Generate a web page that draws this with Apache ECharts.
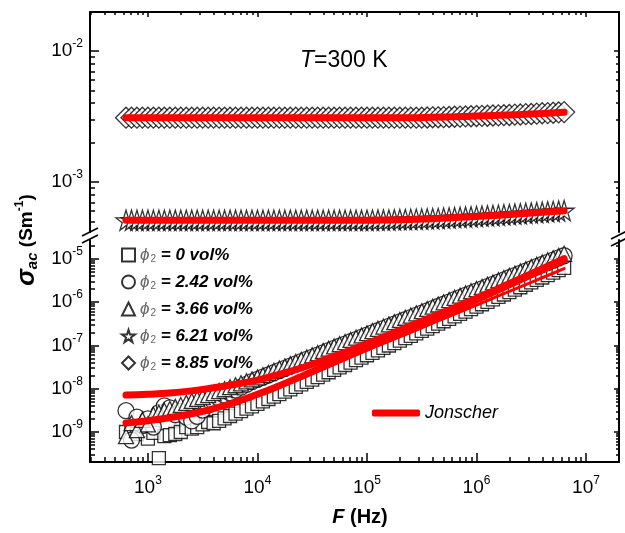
<!DOCTYPE html>
<html>
<head>
<meta charset="utf-8">
<script src="https://cdn.jsdelivr.net/npm/echarts@6/dist/echarts.min.js"></script>
<style>
html, body { margin: 0; padding: 0; background: #fff; }
#chart { width: 625px; height: 533px; }
</style>
</head>
<body>
<div id="chart"></div>
<script>
// frequency (Hz) of the measured points
var freq = [631, 708, 794, 891, 1000, 1122, 1259, 1413, 1585, 1778, 1995, 2239, 2512, 2818, 3162, 3548, 3981, 4467, 5012, 5623, 6310, 7079, 7943, 8913,
    10000, 11220, 12589, 14125, 15849, 17783, 19953, 22387, 25119, 28184, 31623, 35481, 39811, 44668, 50119, 56234, 63096, 70795, 79433, 89125,
    1.0e5, 1.122e5, 1.259e5, 1.413e5, 1.585e5, 1.778e5, 1.995e5, 2.239e5, 2.512e5, 2.818e5, 3.162e5, 3.548e5, 3.981e5, 4.467e5, 5.012e5, 5.623e5, 6.310e5, 7.079e5, 7.943e5, 8.913e5,
    1.0e6, 1.122e6, 1.259e6, 1.413e6, 1.585e6, 1.778e6, 1.995e6, 2.239e6, 2.512e6, 2.818e6, 3.162e6, 3.548e6, 3.981e6, 4.467e6, 5.012e6, 5.623e6, 6.310e6];

// sigma_ac (S/m) for each filler content
var sigma0 = [1.0e-9, 1.3e-9, 9.0e-10, 1.1e-9, 7.0e-10, 9.5e-10, 2.5e-10, 8.0e-10, 8.5e-10, 9.0e-10,
    1.0e-9, 1.3e-9, 1.2e-9, 1.3e-9, 1.5e-9, 1.7e-9, 1.59e-9, 1.81e-9, 2.06e-9, 2.34e-9,
    2.66e-9, 3.03e-9, 3.45e-9, 3.92e-9, 4.46e-9, 5.08e-9, 5.78e-9, 6.57e-9, 7.48e-9, 8.51e-9,
    9.68e-9, 1.10e-8, 1.25e-8, 1.43e-8, 1.62e-8, 1.85e-8, 2.10e-8, 2.39e-8, 2.72e-8, 3.10e-8,
    3.52e-8, 4.01e-8, 4.56e-8, 5.19e-8, 5.91e-8, 6.72e-8, 7.65e-8, 8.71e-8, 9.91e-8, 1.13e-7,
    1.28e-7, 1.46e-7, 1.66e-7, 1.89e-7, 2.15e-7, 2.44e-7, 2.78e-7, 3.16e-7, 3.60e-7, 4.09e-7,
    4.66e-7, 5.30e-7, 6.03e-7, 6.86e-7, 7.80e-7, 8.87e-7, 1.01e-6, 1.15e-6, 1.31e-6, 1.49e-6,
    1.69e-6, 1.93e-6, 2.19e-6, 2.50e-6, 2.84e-6, 3.23e-6, 3.68e-6, 4.19e-6, 4.76e-6, 5.42e-6,
    6.17e-6];
var sigma242 = [3.1e-9, 6.5e-10, 2.2e-9, 1.4e-9, 2.0e-9, 1.3e-9, 2.8e-9, 4.0e-9, 3.6e-9, 2.5e-9,
    3.0e-9, 2.2e-9, 1.8e-9, 2.3e-9, 3.2e-9, 4.2e-9, 5.0e-9, 6.0e-9, 7.0e-9, 8.0e-9,
    9.3e-9, 1.08e-8, 1.25e-8, 1.45e-8, 1.64e-8, 1.85e-8, 2.07e-8, 2.33e-8, 2.62e-8, 2.94e-8,
    3.31e-8, 3.73e-8, 4.19e-8, 4.72e-8, 5.30e-8, 5.96e-8, 6.71e-8, 7.54e-8, 8.48e-8, 9.54e-8,
    1.07e-7, 1.21e-7, 1.36e-7, 1.52e-7, 1.72e-7, 1.93e-7, 2.17e-7, 2.44e-7, 2.75e-7, 3.09e-7,
    3.47e-7, 3.90e-7, 4.38e-7, 4.93e-7, 5.55e-7, 6.24e-7, 7.02e-7, 7.89e-7, 8.87e-7, 9.99e-7,
    1.13e-6, 1.26e-6, 1.42e-6, 1.59e-6, 1.79e-6, 2.02e-6, 2.27e-6, 2.55e-6, 2.87e-6, 3.22e-6,
    3.63e-6, 4.08e-6, 4.59e-6, 5.16e-6, 5.81e-6, 6.53e-6, 7.34e-6, 8.25e-6, 9.27e-6, 1.04e-5,
    1.17e-5];
var sigma366 = [8.0e-10, 1.6e-9, 1.1e-9, 1.9e-9, 1.5e-9, 2.5e-9, 2.8e-9, 3.1e-9, 3.4e-9, 3.8e-9,
    4.2e-9, 4.7e-9, 5.2e-9, 5.8e-9, 6.4e-9, 7.1e-9, 7.9e-9, 8.8e-9, 9.7e-9, 1.08e-8,
    1.20e-8, 1.33e-8, 1.48e-8, 1.64e-8, 1.82e-8, 2.05e-8, 2.30e-8, 2.59e-8, 2.91e-8, 3.27e-8,
    3.68e-8, 4.14e-8, 4.66e-8, 5.24e-8, 5.89e-8, 6.62e-8, 7.45e-8, 8.38e-8, 9.42e-8, 1.06e-7,
    1.19e-7, 1.34e-7, 1.51e-7, 1.69e-7, 1.91e-7, 2.14e-7, 2.41e-7, 2.71e-7, 3.05e-7, 3.43e-7,
    3.85e-7, 4.33e-7, 4.87e-7, 5.48e-7, 6.17e-7, 6.93e-7, 7.80e-7, 8.77e-7, 9.86e-7, 1.11e-6,
    1.25e-6, 1.40e-6, 1.58e-6, 1.77e-6, 1.99e-6, 2.24e-6, 2.52e-6, 2.83e-6, 3.19e-6, 3.58e-6,
    4.03e-6, 4.53e-6, 5.10e-6, 5.73e-6, 6.45e-6, 7.25e-6, 8.15e-6, 9.17e-6, 1.03e-5, 1.16e-5,
    1.30e-5];
var sigma621 = [5.10e-4, 5.10e-4, 5.10e-4, 5.10e-4, 5.10e-4, 5.10e-4, 5.10e-4, 5.10e-4, 5.10e-4, 5.10e-4,
    5.10e-4, 5.10e-4, 5.10e-4, 5.10e-4, 5.10e-4, 5.10e-4, 5.10e-4, 5.10e-4, 5.10e-4, 5.10e-4,
    5.10e-4, 5.10e-4, 5.10e-4, 5.10e-4, 5.10e-4, 5.10e-4, 5.10e-4, 5.10e-4, 5.10e-4, 5.10e-4,
    5.10e-4, 5.10e-4, 5.10e-4, 5.10e-4, 5.10e-4, 5.10e-4, 5.10e-4, 5.10e-4, 5.10e-4, 5.10e-4,
    5.10e-4, 5.10e-4, 5.10e-4, 5.10e-4, 5.10e-4, 5.11e-4, 5.12e-4, 5.12e-4, 5.13e-4, 5.14e-4,
    5.16e-4, 5.17e-4, 5.18e-4, 5.20e-4, 5.21e-4, 5.23e-4, 5.25e-4, 5.27e-4, 5.30e-4, 5.32e-4,
    5.35e-4, 5.37e-4, 5.40e-4, 5.43e-4, 5.46e-4, 5.49e-4, 5.52e-4, 5.55e-4, 5.58e-4, 5.62e-4,
    5.65e-4, 5.69e-4, 5.72e-4, 5.76e-4, 5.80e-4, 5.84e-4, 5.88e-4, 5.92e-4, 5.96e-4, 6.00e-4,
    6.05e-4];
var sigma885 = [3.10e-3, 3.10e-3, 3.10e-3, 3.10e-3, 3.10e-3, 3.10e-3, 3.10e-3, 3.10e-3, 3.10e-3, 3.10e-3,
    3.10e-3, 3.10e-3, 3.10e-3, 3.10e-3, 3.10e-3, 3.10e-3, 3.10e-3, 3.10e-3, 3.10e-3, 3.10e-3,
    3.10e-3, 3.10e-3, 3.10e-3, 3.10e-3, 3.10e-3, 3.10e-3, 3.10e-3, 3.10e-3, 3.10e-3, 3.10e-3,
    3.10e-3, 3.10e-3, 3.10e-3, 3.10e-3, 3.10e-3, 3.10e-3, 3.10e-3, 3.10e-3, 3.10e-3, 3.10e-3,
    3.10e-3, 3.10e-3, 3.10e-3, 3.10e-3, 3.10e-3, 3.10e-3, 3.10e-3, 3.10e-3, 3.10e-3, 3.10e-3,
    3.10e-3, 3.10e-3, 3.10e-3, 3.10e-3, 3.10e-3, 3.11e-3, 3.12e-3, 3.12e-3, 3.13e-3, 3.14e-3,
    3.15e-3, 3.16e-3, 3.17e-3, 3.18e-3, 3.19e-3, 3.20e-3, 3.21e-3, 3.22e-3, 3.23e-3, 3.24e-3,
    3.25e-3, 3.27e-3, 3.28e-3, 3.30e-3, 3.31e-3, 3.33e-3, 3.35e-3, 3.36e-3, 3.38e-3, 3.40e-3,
    3.42e-3];

// Jonscher fits
var fitFreq = [631, 1000, 1585, 2512, 3981, 6310, 1.0e4, 1.585e4, 2.512e4, 3.981e4, 6.310e4,
    1.0e5, 1.585e5, 2.512e5, 3.981e5, 6.310e5, 1.0e6, 1.585e6, 2.512e6, 3.981e6, 6.310e6];
var fitFreq0 = [1.0e4, 1.585e4, 2.512e4, 3.981e4, 6.310e4, 1.0e5, 1.585e5, 2.512e5, 3.981e5, 6.310e5,
    1.0e6, 1.585e6, 2.512e6, 3.981e6, 6.310e6];
var fit0 = [7.9e-9, 1.23e-8, 1.95e-8, 3.09e-8, 4.9e-8, 7.8e-8, 1.23e-7, 2.0e-7, 3.24e-7, 5.25e-7,
    8.5e-7, 1.38e-6, 2.24e-6, 3.63e-6, 5.9e-6];
var fit242 = [1.62e-9, 1.82e-9, 2.14e-9, 2.63e-9, 3.47e-9, 4.9e-9, 7.4e-9, 1.17e-8, 1.91e-8, 3.16e-8, 5.25e-8,
    8.7e-8, 1.45e-7, 2.40e-7, 3.98e-7, 6.6e-7, 1.12e-6, 1.91e-6, 3.24e-6, 5.5e-6, 9.3e-6];
var fit366 = [7.1e-9, 7.4e-9, 7.9e-9, 8.9e-9, 1.05e-8, 1.26e-8, 1.58e-8, 2.14e-8, 3.0e-8, 4.5e-8, 6.9e-8,
    1.10e-7, 1.74e-7, 2.82e-7, 4.57e-7, 7.4e-7, 1.23e-6, 2.04e-6, 3.47e-6, 5.9e-6, 1.0e-5];
var fit621 = [5.10e-4, 5.10e-4, 5.10e-4, 5.10e-4, 5.10e-4, 5.10e-4, 5.10e-4, 5.10e-4, 5.10e-4, 5.10e-4, 5.10e-4,
    5.10e-4, 5.13e-4, 5.18e-4, 5.25e-4, 5.35e-4, 5.46e-4, 5.58e-4, 5.72e-4, 5.88e-4, 6.04e-4];
var fit885 = [3.10e-3, 3.10e-3, 3.10e-3, 3.10e-3, 3.10e-3, 3.10e-3, 3.10e-3, 3.10e-3, 3.10e-3, 3.10e-3, 3.10e-3,
    3.10e-3, 3.10e-3, 3.10e-3, 3.12e-3, 3.15e-3, 3.19e-3, 3.23e-3, 3.28e-3, 3.34e-3, 3.41e-3];

var seriesNames = ['0', '2.42', '3.66', '6.21', '8.85'];
var xMajor = [1e3, 1e4, 1e5, 1e6, 1e7];
var yUpperMajor = [1e-3, 1e-2];
var yLowerMajor = [1e-9, 1e-8, 1e-7, 1e-6, 1e-5];

var FONT = '"Liberation Sans", Arial, sans-serif';
var X_MIN = 296, X_MAX = 2.0e7;
var YU_MIN = 4.15e-4, YU_MAX = 1.99e-2;
var YL_MIN = 2.03e-10, YL_MAX = 2.7e-5;

function minorTicks(e0, e1, lo, hi) {
    var out = [];
    for (var e = e0; e <= e1; e++) {
        for (var m = 2; m <= 9; m++) {
            var v = m * Math.pow(10, e);
            if (v > lo && v < hi) out.push(v);
        }
    }
    return out;
}
function pairs(xs, ys) {
    return xs.map(function (x, i) { return [x, ys[i]]; });
}
function expLabel(v) {
    return '{b|10}{s|' + Math.round(Math.log(v) / Math.LN10) + '}';
}

var labelRich = {
    b: { fontSize: 19, fontFamily: FONT, color: '#000', lineHeight: 20 },
    s: { fontSize: 12, fontFamily: FONT, color: '#000', lineHeight: 12, padding: [0, 0, 14, 0] }
};

function axisBase(extra) {
    var a = {
        type: 'log', logBase: 10,
        splitLine: { show: false },
        axisLine: { show: false, onZero: false, lineStyle: { color: '#000', width: 2 } },
        axisTick: { show: true, inside: true, length: 5, lineStyle: { color: '#000', width: 1.5 } },
        axisLabel: { show: false }
    };
    for (var k in extra) a[k] = extra[k];
    return a;
}
function xAx(grid, pos, line, ticks, len, labels) {
    return axisBase({
        gridIndex: grid, position: pos, min: X_MIN, max: X_MAX,
        axisLine: { show: line, onZero: false, lineStyle: { color: '#000', width: 2 } },
        axisTick: { show: true, inside: true, length: len, customValues: ticks, lineStyle: { color: '#000', width: 1.5 } },
        axisLabel: labels ? { show: true, margin: 16, customValues: ticks, formatter: expLabel, rich: labelRich } : { show: false }
    });
}
function yAx(grid, pos, lo, hi, line, ticks, len, labels) {
    return axisBase({
        gridIndex: grid, position: pos, min: lo, max: hi,
        axisLine: { show: line, onZero: false, lineStyle: { color: '#000', width: 2 } },
        axisTick: { show: true, inside: true, length: len, customValues: ticks, lineStyle: { color: '#000', width: 1.5 } },
        axisLabel: labels ? { show: true, margin: 7, customValues: ticks, formatter: expLabel, rich: labelRich } : { show: false }
    });
}

var xMinor = minorTicks(2, 6, X_MIN, X_MAX);
var yUpperMinor = minorTicks(-4, -2, YU_MIN, YU_MAX);
var yLowerMinor = minorTicks(-10, -5, YL_MIN, YL_MAX);

var markerStyle = { color: '#fff', borderColor: '#000', borderWidth: 1.3 };
var starPath = 'path://M50,0 L61,35 L98,35 L68,57 L79,91 L50,70 L21,91 L32,57 L2,35 L39,35 Z';

function scatter(name, xs, ys, symbol, size, xi, yi) {
    return {
        name: name, type: 'scatter', xAxisIndex: xi, yAxisIndex: yi,
        symbol: symbol, symbolSize: size, itemStyle: markerStyle,
        data: pairs(xs, ys), silent: true
    };
}
function fitLine(xs, ys, xi, yi, width) {
    return {
        name: 'Jonscher', type: 'line', xAxisIndex: xi, yAxisIndex: yi,
        symbol: 'none', smooth: true, silent: true,
        lineStyle: { color: '#ff0000', width: width, cap: 'round' },
        itemStyle: { color: '#ff0000' },
        data: pairs(xs, ys)
    };
}

var chart = echarts.init(document.getElementById('chart'));
chart.setOption({
    animation: false,
    textStyle: { fontFamily: FONT },
    grid: [
        { left: 90, right: 6, top: 12, height: 220 },
        { left: 90, right: 6, top: 240, height: 222 }
    ],
    xAxis: [
        xAx(0, 'top', true, xMajor, 5, false),
        xAx(0, 'top', false, xMinor, 3, false),
        xAx(1, 'bottom', true, xMajor, 9, true),
        xAx(1, 'bottom', false, xMinor, 5, false)
    ],
    yAxis: [
        yAx(0, 'left', YU_MIN, YU_MAX, true, yUpperMajor, 9, true),
        yAx(0, 'left', YU_MIN, YU_MAX, false, yUpperMinor, 5, false),
        yAx(0, 'right', YU_MIN, YU_MAX, true, yUpperMajor, 5, false),
        yAx(0, 'right', YU_MIN, YU_MAX, false, yUpperMinor, 3, false),
        yAx(1, 'left', YL_MIN, YL_MAX, true, yLowerMajor, 9, true),
        yAx(1, 'left', YL_MIN, YL_MAX, false, yLowerMinor, 5, false),
        yAx(1, 'right', YL_MIN, YL_MAX, true, yLowerMajor, 5, false),
        yAx(1, 'right', YL_MIN, YL_MAX, false, yLowerMinor, 3, false)
    ],
    legend: [{
        data: seriesNames, orient: 'vertical', left: 116, top: 241,
        itemWidth: 13, itemHeight: 13, itemGap: 9, selectedMode: false,
        formatter: function (name) { return '{p|\u03d5}{s|2}{t| = ' + name + ' vol%}'; },
        textStyle: {
            rich: {
                p: { fontSize: 17, fontStyle: 'italic', color: '#666', fontFamily: FONT, lineHeight: 18 },
                s: { fontSize: 10, color: '#666', fontFamily: FONT, lineHeight: 10, padding: [8, 0, 0, 1] },
                t: { fontSize: 17, fontStyle: 'italic', fontWeight: 'bold', color: '#000', fontFamily: FONT, lineHeight: 18 }
            }
        }
    }, {
        data: [{ name: 'Jonscher', icon: 'roundRect' }], left: 367, top: 398, itemWidth: 48, itemHeight: 7, selectedMode: false,
        itemStyle: { color: '#ff0000', borderWidth: 0 },
        textStyle: { fontSize: 18, fontStyle: 'italic', color: '#000', fontFamily: FONT, lineHeight: 20 }
    }],
    graphic: [
        { type: 'text', x: 300, y: 61, style: { text: '{i|T}{n|=300 K}', textVerticalAlign: 'middle',
            rich: { i: { fontSize: 23, fontStyle: 'italic', fontFamily: FONT, fill: '#000' }, n: { fontSize: 23, fontFamily: FONT, fill: '#000' } } } },
        { type: 'text', x: 360, y: 517, style: { text: '{f|F}{h| (Hz)}', textAlign: 'center', textVerticalAlign: 'middle',
            rich: { f: { fontSize: 20, fontStyle: 'italic', fontWeight: 'bold', fontFamily: FONT, fill: '#000' }, h: { fontSize: 20, fontWeight: 'bold', fontFamily: FONT, fill: '#000' } } } },
        { type: 'text', x: 27, y: 240, rotation: Math.PI / 2, style: { text: '{s|\u03c3}{a|ac}{n| (Sm}{e|-1}{n|)}', textAlign: 'center', textVerticalAlign: 'middle',
            rich: {
                s: { fontSize: 25, fontStyle: 'italic', fontWeight: 'bold', fontFamily: FONT, fill: '#000', lineHeight: 26 },
                a: { fontSize: 15, fontStyle: 'italic', fontWeight: 'bold', fontFamily: FONT, fill: '#000', lineHeight: 15, padding: [11, 0, 0, 0] },
                n: { fontSize: 19, fontWeight: 'bold', fontFamily: FONT, fill: '#000', lineHeight: 26 },
                e: { fontSize: 12, fontWeight: 'bold', fontFamily: FONT, fill: '#000', lineHeight: 12, padding: [0, 0, 14, 0] }
            } } },
        { type: 'line', shape: { x1: 82, y1: 236, x2: 98, y2: 228 }, style: { stroke: '#000', lineWidth: 1.6 } },
        { type: 'line', shape: { x1: 82, y1: 243, x2: 98, y2: 235 }, style: { stroke: '#000', lineWidth: 1.6 } },
        { type: 'line', shape: { x1: 611, y1: 239, x2: 627, y2: 231 }, style: { stroke: '#000', lineWidth: 1.6 } },
        { type: 'line', shape: { x1: 611, y1: 246, x2: 627, y2: 238 }, style: { stroke: '#000', lineWidth: 1.6 } }
    ],
    series: [
        fitLine(fitFreq0, fit0, 2, 4, 3),
        scatter('0', freq, sigma0, 'rect', 13, 2, 4),
        scatter('2.42', freq, sigma242, 'circle', 16, 2, 4),
        scatter('3.66', freq, sigma366, 'triangle', 15, 2, 4),
        fitLine(fitFreq, fit242, 2, 4, 7),
        fitLine(fitFreq, fit366, 2, 4, 7),
        scatter('6.21', freq, sigma621, starPath, 20, 0, 0),
        scatter('8.85', freq, sigma885, 'diamond', 21, 0, 0),
        fitLine(fitFreq, fit621, 0, 0, 7),
        fitLine(fitFreq, fit885, 0, 0, 7)
    ]
});
</script>
</body>
</html>
